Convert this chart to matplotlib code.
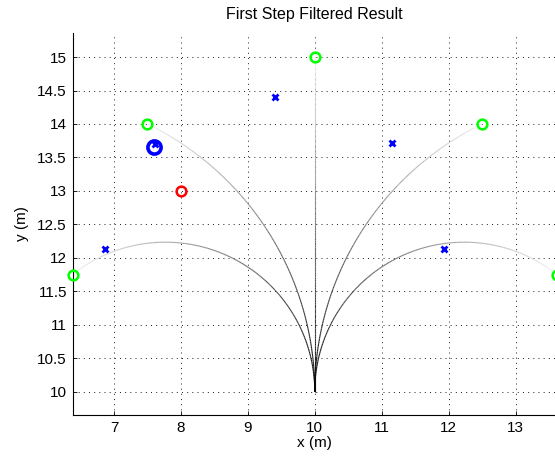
import matplotlib
matplotlib.use("Agg")
import numpy as np
import matplotlib.pyplot as plt
from matplotlib.collections import LineCollection

plt.rcParams["font.family"] = ["Liberation Sans", "DejaVu Sans"]

# --- data ---
start_x, start_y = 10.0, 10.0
goal_x = [6.38, 7.5, 10.0, 12.5, 13.62]
goal_y = [11.75, 14.0, 15.0, 14.0, 11.75]
meas_x = [6.865, 9.40, 11.15, 11.93, 7.62]
meas_y = [12.125, 14.40, 13.71, 12.125, 13.695]
est_x, est_y = [7.605], [13.655]
red_x, red_y = [8.0], [13.0]
xticks = [7, 8, 9, 10, 11, 12, 13]
yticks = [10, 10.5, 11, 11.5, 12, 12.5, 13, 13.5, 14, 14.5, 15]

W, H = 555, 461
fig = plt.figure(figsize=(W / 100, H / 100), dpi=100)
ax = fig.add_axes([72.5 / W, (H - 415) / H, (557 - 72.5) / W, (415 - 33) / H])

# arcs leaving the start heading straight up, each ending at a goal
for gx, gy in zip(goal_x, goal_y):
    dx, dy = gx - start_x, gy - start_y
    if abs(dx) < 1e-9:
        xs = np.full(200, start_x)
        ys = np.linspace(start_y, gy, 200)
    else:
        r = (dx * dx + dy * dy) / (2 * abs(dx))
        s = np.sign(dx)
        cx = start_x + s * r
        end = np.arctan2(dy, -s * (gx - cx))
        t = np.linspace(0, end, 200)
        xs = cx - s * r * np.cos(t)
        ys = start_y + r * np.sin(t)
    pts = np.array([xs, ys]).T.reshape(-1, 1, 2)
    segs = np.concatenate([pts[:-1], pts[1:]], axis=1)
    shade = np.linspace(0.0, 0.95, len(segs))
    lc = LineCollection(segs, colors=[(v, v, v) for v in shade], linewidths=0.8, zorder=2)
    ax.add_collection(lc)

ax.plot(goal_x, goal_y, "o", ms=7, mfc="none", mec=(0, 1, 0), mew=1.8,
        clip_on=False, zorder=4)
ax.plot(meas_x, meas_y, "x", ms=5, mec=(0, 0, 1), mew=2.0, clip_on=False, zorder=4)
ax.plot(est_x, est_y, "o", ms=9.5, mfc="none", mec=(0, 0, 1), mew=2.6, zorder=4)
ax.plot(red_x, red_y, "o", ms=7, mfc="none", mec=(1, 0, 0), mew=1.8, zorder=4)

ax.set_xlim(6.38, 13.62)
ax.set_ylim(9.65, 15.36)
ax.set_xticks(xticks)
ax.set_yticks(yticks)
ax.set_xticklabels([str(v) for v in xticks])
ax.set_yticklabels([("%g" % v) for v in yticks])
ax.grid(True, color="black", linestyle=(0, (1.2, 5)), linewidth=0.6)
ax.set_axisbelow(True)
for side in ("top", "right"):
    ax.spines[side].set_visible(False)
for side in ("left", "bottom"):
    ax.spines[side].set_linewidth(0.8)
ax.tick_params(direction="in", length=3, width=0.6, labelsize=11, pad=4)
ax.set_xlabel("x (m)", fontsize=11, labelpad=1)
ax.set_ylabel("y (m)", fontsize=11, labelpad=6)
ax.set_title("First Step Filtered Result", fontsize=11.5, pad=10)

fig.savefig("out.png", dpi=100)
plt.close(fig)
